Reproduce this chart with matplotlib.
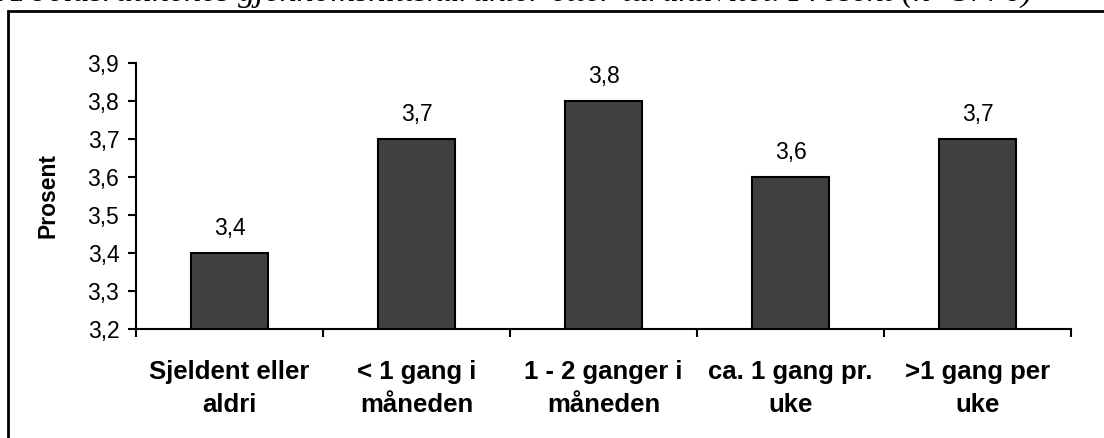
import matplotlib.pyplot as plt
import matplotlib.patches as mpatches

# data
categories = ['Sjeldent eller\naldri', '< 1 gang i\nmåneden', '1 - 2 ganger i\nmåneden',
              'ca. 1 gang pr.\nuke', '>1 gang per\nuke']
values = [3.4, 3.7, 3.8, 3.6, 3.7]
value_labels = ['3,4', '3,7', '3,8', '3,6', '3,7']
yticks = [3.2, 3.3, 3.4, 3.5, 3.6, 3.7, 3.8, 3.9]
ytick_labels = ['3,2', '3,3', '3,4', '3,5', '3,6', '3,7', '3,8', '3,9']
title = 'Arbeidsrutinenes gjennomsnittskarakter etter turaktivitet. Prosent (n=3776)'

bar_color = '#404040'

plt.rcParams['font.family'] = ['Liberation Sans', 'DejaVu Sans']

fig = plt.figure(figsize=(11.04, 4.38), dpi=100)
ax = fig.add_axes([136/1104, 1 - 329/438, (1071 - 136)/1104, (329 - 63)/438])

x = list(range(len(categories)))
ax.bar(x, [v - 3.2 for v in values], bottom=3.2, width=0.41, color=bar_color,
       edgecolor='black', linewidth=1.5, zorder=3)

for xi, v, lab in zip(x, values, value_labels):
    ax.text(xi, v + 0.035, lab, ha='center', va='bottom', fontsize=16.5)

ax.set_xlim(-0.5, len(categories) - 0.5)
ax.set_ylim(3.2, 3.9)
ax.set_yticks(yticks)
ax.set_yticklabels(ytick_labels, fontsize=16.5)

# category labels between boundary ticks
ax.set_xticks([i + 0.5 for i in range(-1, len(categories))])
ax.set_xticklabels([])
ax.set_xticks(x, minor=True)
ax.set_xticklabels(categories, minor=True, fontsize=18.5, fontweight='bold', linespacing=1.5)
ax.tick_params(axis='x', which='minor', length=0, pad=22)
ax.tick_params(axis='x', which='major', length=6, width=1.5, direction='out')
ax.tick_params(axis='y', length=6, width=1.5, direction='out', pad=6)

ax.spines['top'].set_visible(False)
ax.spines['right'].set_visible(False)
ax.spines['left'].set_linewidth(1.5)
ax.spines['bottom'].set_linewidth(1.5)

ax.set_ylabel('Prosent', fontsize=16.5, fontweight='bold', labelpad=20)

# outer frame (cut by the image edges)
frame = mpatches.Rectangle((8/1104, -0.2), 1.2, 1 - 11/438 + 0.2, transform=fig.transFigure,
                           fill=False, edgecolor='black', linewidth=2, clip_on=False)
fig.patches.append(frame)

fig.text(-0.002, 1 - 1/438, title, ha='left', va='baseline', fontsize=24.5,
         family='Liberation Serif', style='italic')

fig.savefig('out.png', dpi=100)
